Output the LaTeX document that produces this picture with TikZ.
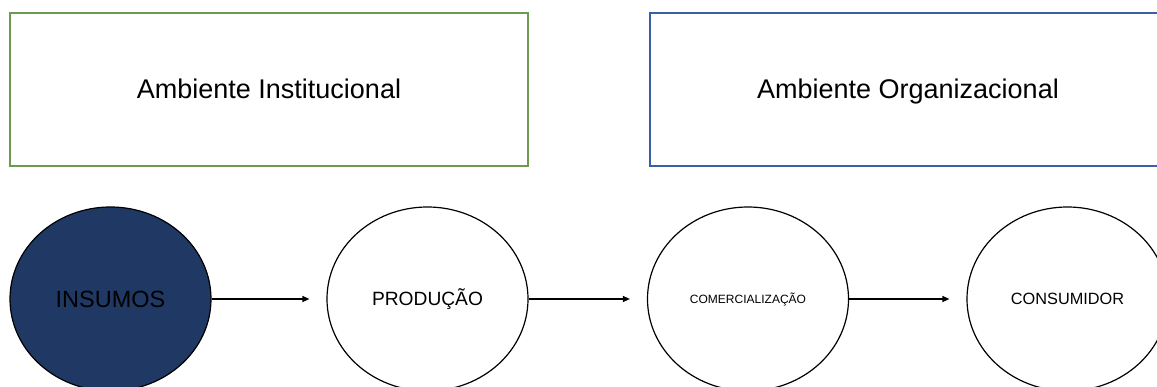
\documentclass[tikz,border=0pt]{standalone}
\usepackage{fontspec}
\setmainfont{Liberation Sans}
\usetikzlibrary{shapes.geometric,arrows.meta}

\definecolor{envgreen}{RGB}{108,154,80}
\definecolor{envblue}{RGB}{58,94,168}
\definecolor{navy}{HTML}{1F3864}

\tikzset{
  envbox/.style={draw, line width=1.2pt, rectangle, minimum height=153pt,
    inner sep=0pt, text height=17.8pt, text depth=0pt,
    font=\fontsize{27}{30}\selectfont},
  stage/.style={draw=black, line width=1.2pt, ellipse, minimum width=201pt,
    minimum height=184pt, inner sep=0pt, fill=white, text depth=0pt},
  flow/.style={-{Triangle[length=7pt,width=6pt]}, line width=1.2pt,
    shorten >=17pt}
}

\begin{document}
\begin{tikzpicture}[x=1pt,y=-1pt]
  \useasboundingbox (0,0) rectangle (1157,387);
  \clip (0,0) rectangle (1157,387);

  % environment boxes
  \node[envbox, draw=envgreen, minimum width=518pt] (inst) at (269,89.5)
    {Ambiente Institucional};
  \node[envbox, draw=envblue, minimum width=516pt] (org) at (908,89.5)
    {Ambiente Organizacional};

  % chain stages (text height = cap height, so the capitals sit centred)
  \node[stage, fill=navy, text height=16.8pt, font=\fontsize{23.5}{26}\selectfont]
    (ins) at (110.5,299) {INSUMOS};
  \node[stage, text height=13.7pt, font=\fontsize{19.2}{22}\selectfont]
    (prod) at (427.5,299) {PRODUÇÃO};
  \node[stage, text height=8.6pt, font=\fontsize{12}{14}\selectfont]
    (com) at (748,299) {COMERCIALIZAÇÃO};
  \node[stage, text height=11.7pt, font=\fontsize{16.3}{19}\selectfont]
    (cons) at (1067.5,299) {CONSUMIDOR};

  % flows between stages
  \draw[flow] (ins) -- (prod);
  \draw[flow] (prod) -- (com);
  \draw[flow] (com) -- (cons);
\end{tikzpicture}
\end{document}
